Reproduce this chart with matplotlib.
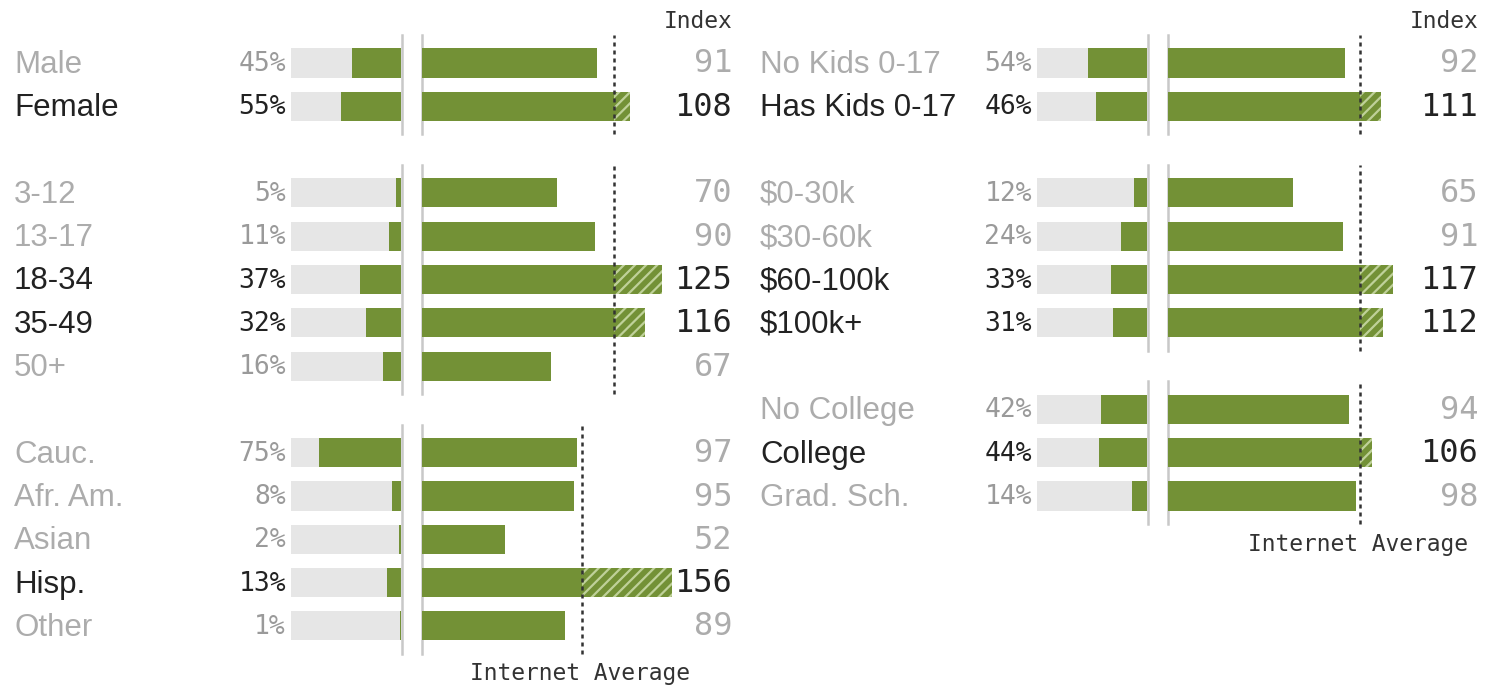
import matplotlib
matplotlib.use("Agg")
from matplotlib import pyplot as plt

W, H = 1485, 687

# data
gender_labels = ["Male", "Female"]
gender_pct = [45, 55]
gender_idx = [91, 108]

age_labels = ["3-12", "13-17", "18-34", "35-49", "50+"]
age_pct = [5, 11, 37, 32, 16]
age_idx = [70, 90, 125, 116, 67]

eth_labels = ["Cauc.", "Afr. Am.", "Asian", "Hisp.", "Other"]
eth_pct = [75, 8, 2, 13, 1]
eth_idx = [97, 95, 52, 156, 89]

kids_labels = ["No Kids 0-17", "Has Kids 0-17"]
kids_pct = [54, 46]
kids_idx = [92, 111]

income_labels = ["$0-30k", "$30-60k", "$60-100k", "$100k+"]
income_pct = [12, 24, 33, 31]
income_idx = [65, 91, 117, 112]

edu_labels = ["No College", "College", "Grad. Sch."]
edu_pct = [42, 44, 14]
edu_idx = [94, 106, 98]

GREEN = "#739136"
GRAY_BAR = "#e6e6e6"
LINE = "#c8c8c8"
DARK = "#222222"
LIGHT = "#acacac"
HATCH = "#bfd199"

plt.rcParams["hatch.linewidth"] = 1.6
plt.rcParams["hatch.color"] = HATCH

ROW = 43.3
TOP = 63
PAD = 28

fig = plt.figure(figsize=(W / 100, H / 100), dpi=100)


def px_axes(x0, y0, w, h):
    return fig.add_axes([x0 / W, 1 - (y0 + h) / H, w / W, h / H])


def ftext(x, y, s, **kw):
    fig.text(x / W, 1 - y / H, s, **kw)


def draw_group(labels, pct, idx, first_row, off):
    n = len(labels)
    y_first = TOP + first_row * ROW
    y_last = y_first + (n - 1) * ROW
    top = y_first - PAD
    h = y_last - y_first + 2 * PAD
    ylim = (n - 1 + PAD / ROW, -PAD / ROW)
    rows = list(range(n))

    comp = px_axes(291 + off, top, 110, h)
    comp.barh(rows, [100] * n, height=0.67, color=GRAY_BAR)
    comp.barh(rows, pct, height=0.67, color=GREEN)
    comp.set_xlim(100, 0)
    comp.set_ylim(*ylim)
    comp.axis("off")
    comp.axvline(-1, color=LINE, lw=1.8, clip_on=False)

    ix = px_axes(422 + off, top, 250, h)
    base = [min(v, 100) for v in idx]
    ix.barh(rows, base, height=0.67, color=GREEN)
    for r, v in zip(rows, idx):
        if v > 100:
            ix.barh(r, v - 100, left=100, height=0.67, color=GREEN,
                    hatch="///", edgecolor=HATCH, linewidth=0)
    ix.set_xlim(0, max(130, max(idx)))
    ix.set_ylim(*ylim)
    ix.axis("off")
    ix.axvline(0, color=LINE, lw=1.8, clip_on=False, zorder=0)
    ix.axvline(100, color="#333333", lw=1.8, ls=(0, (1.6, 1.6)), clip_on=False)

    for r, lab, p, v in zip(rows, labels, pct, idx):
        y = y_first + r * ROW
        c = DARK if v > 100 else LIGHT
        ftext(14 + off, y + 2, lab, ha="left", va="center", fontsize=22.5,
              family="Liberation Sans", color=c)
        ftext(286 + off, y + 1, f"{p}%", ha="right", va="center", fontsize=19,
              family="DejaVu Sans Mono", color=DARK if v > 100 else "#9a9a9a")
        ftext(732 + off, y + 1, f"{v}", ha="right", va="center", fontsize=23,
              family="DejaVu Sans Mono", color=c)

    # pixel x of the internet-average line, for the caption
    return 422 + off + 250 * 100 / max(130, max(idx)), y_last


draw_group(gender_labels, gender_pct, gender_idx, 0, 0)
draw_group(age_labels, age_pct, age_idx, 3, 0)
xl, yl = draw_group(eth_labels, eth_pct, eth_idx, 9, 0)
ftext(xl - 2, yl + 48, "Internet Average", ha="center", va="center",
      fontsize=16.5, family="DejaVu Sans Mono", color="#333333")

draw_group(kids_labels, kids_pct, kids_idx, 0, 746)
draw_group(income_labels, income_pct, income_idx, 3, 746)
xr, yr = draw_group(edu_labels, edu_pct, edu_idx, 8, 746)
ftext(xr - 2, yr + 48, "Internet Average", ha="center", va="center",
      fontsize=16.5, family="DejaVu Sans Mono", color="#333333")

for off in (0, 746):
    ftext(733 + off, 22, "Index", ha="right", va="center",
          fontsize=16.5, family="DejaVu Sans Mono", color="#333333")

plt.savefig("out.png", dpi=100)
plt.close()
